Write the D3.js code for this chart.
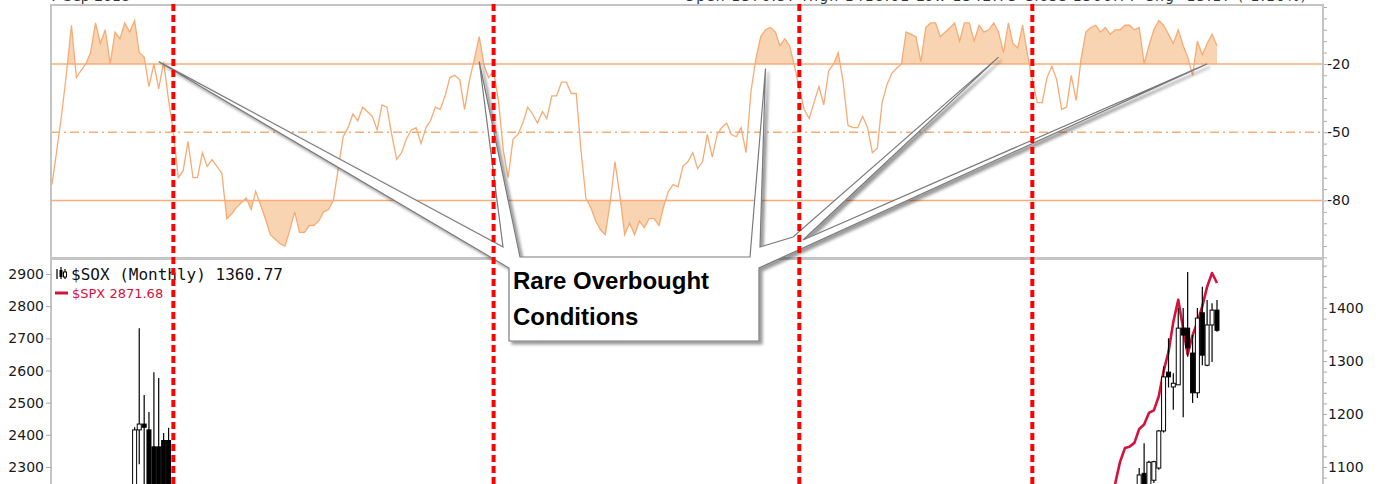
<!DOCTYPE html>
<html>
<head>
<meta charset="utf-8">
<script src="https://cdnjs.cloudflare.com/ajax/libs/d3/7.8.5/d3.min.js"></script>
<style>
body { margin: 0; background: #fff; }
svg { display: block; }
.tick-label { font-family: "DejaVu Sans", sans-serif; font-size: 14px; fill: #1a1a1a; }
</style>
</head>
<body>
<div class="canvas"></div>
<script>
// monthly Williams %R, Sep 1998 .. Sep 2018
var firstMonth = "1998-09";
var wpr = [
  -73, -58, -42, -24, -3, -26, -23, -20, -15, -2, -11, -5,
  -20, -6, -9, -2, -6, -1, -15, -17, -30, -20, -31, -19,
  -36, -50, -70, -67, -54, -70, -70, -59, -65, -62, -65, -68,
  -88, -86, -83, -81, -79, -84, -76, -82, -88, -95, -97, -99,
  -100, -93, -85, -94, -94, -91, -91, -89, -85, -84, -80, -66,
  -52, -48, -42, -45, -39, -41, -43, -49, -38, -39, -51, -62,
  -59, -53, -49, -48, -55, -48, -45, -39, -40, -34, -26, -25,
  -27, -40, -27, -18, -8, -21, -26, -23, -36, -58, -70, -53,
  -51, -46, -39, -42, -46, -41, -44, -34, -34, -28, -28, -33,
  -33, -58, -79, -83, -89, -93, -95, -81, -63, -78, -95, -90,
  -95, -89, -92, -88, -88, -91, -83, -76, -73, -74, -65, -63,
  -59, -66, -63, -51, -61, -51, -48, -46, -51, -52, -48, -59,
  -32, -18, -8, -5, -4, -6, -12, -9, -12, -21, -31, -40,
  -44, -37, -30, -38, -23, -20, -15, -28, -47, -48, -48, -43,
  -48, -59, -57, -37, -29, -24, -22, -20, -6, -7, -8, -19,
  -4, -2, -2, -8, -6, -4, -2, -10, -2, -2, -10, -3,
  -6, -5, -2, -6, -15, -2, -11, -13, -3, -16, -27, -37,
  -37, -26, -21, -27, -40, -39, -25, -36, -18, -6, -4, -3,
  -6, -4, -7, -5, -5, -3, -3, -5, -4, -20, -12, -5,
  -1, -3, -7, -11, -5, -12, -17, -25, -10, -16, -11, -7,
  -12
];
var wprTicks = [-20, -50, -80];

// $SOX monthly candles (only the ones that reach into the visible window)
var soxDates = ["2000-02", "2000-03", "2000-04", "2000-05", "2000-06", "2000-07", "2000-08", "2000-09",
  "2017-05", "2017-06", "2017-07", "2017-08", "2017-09", "2017-10", "2017-11", "2017-12",
  "2018-01", "2018-02", "2018-03", "2018-04", "2018-05", "2018-06", "2018-07", "2018-08", "2018-09"];
var soxOpen  = [1000, 1170, 1181, 1170, 1138, 1138, 1150, 1150,
  1060, 1088, 1065, 1075, 1098, 1168, 1279, 1251, 1255, 1362, 1362, 1315, 1240, 1391, 1292, 1368, 1396];
var soxHigh  = [1175, 1362, 1236, 1204, 1279, 1268, 1164, 1174,
  1098, 1145, 1112, 1112, 1170, 1290, 1343, 1277, 1400, 1400, 1468, 1349, 1400, 1440, 1415, 1409, 1415];
var soxLow   = [980, 1105, 1020, 1000, 990, 1000, 1010, 1000,
  1050, 1040, 1055, 1070, 1095, 1165, 1250, 1208, 1255, 1194, 1308, 1221, 1230, 1292, 1290, 1298, 1355];
var soxClose = [1170, 1181, 1175, 1020, 1010, 1030, 1050, 1040,
  1085, 1060, 1109, 1110, 1168, 1270, 1270, 1258, 1362, 1349, 1325, 1240, 1381, 1311, 1368, 1396, 1358];
var soxTicks = [1100, 1200, 1300, 1400];

// $SPX monthly close
var spxFirst = "2016-11";
var spx = [2190, 2247, 2316, 2359, 2363, 2375, 2418, 2432, 2468, 2476, 2520, 2598,
  2658, 2751, 2820, 2730, 2650, 2710, 2750, 2800, 2860, 2903, 2872];
var spxTicks = [2300, 2400, 2500, 2600, 2700, 2800, 2900];

var markerDates = ["2000-10", "2006-04", "2011-07", "2015-07"];

// callout targets (month, %R value)
var calloutDates = ["2000-07", "2006-01", "2010-12", "2014-12", "2018-07"];
var calloutVals = [-19, -19, -22, -17, -20];

var width = 1381, height = 484;
var L = 51, R = 1323;
var top1 = 5, bot1 = 258, top2 = 259;

var parseMonth = d3.timeParse("%Y-%m");
var t0 = parseMonth(firstMonth);

var x = d3.scaleTime()
    .domain([t0, d3.timeMonth.offset(t0, 240)])
    .range([52, 1217]);
var yW = d3.scaleLinear().domain([0, -100]).range([18.4, 246]);
var ySox = d3.scaleLinear().domain([1400, 1100]).range([308, 467]);
var ySpx = d3.scaleLinear().domain([2900, 2300]).range([274, 467]);

var wprData = wpr.map(function(v, i) { return {date: d3.timeMonth.offset(t0, i), v: v}; });
var spxData = spx.map(function(v, i) { return {date: d3.timeMonth.offset(parseMonth(spxFirst), i), v: v}; });
var candles = soxDates.map(function(d, i) {
  return {date: parseMonth(d), o: soxOpen[i], h: soxHigh[i], l: soxLow[i], c: soxClose[i]};
});

var svg = d3.select(".canvas").append("svg")
    .attr("width", width)
    .attr("height", height);

var defs = svg.append("defs");
defs.append("clipPath").attr("id", "clipTop")
  .append("rect").attr("x", L).attr("y", top1).attr("width", R - L).attr("height", bot1 - top1);
defs.append("clipPath").attr("id", "clipOB")
  .append("rect").attr("x", L).attr("y", top1).attr("width", R - L).attr("height", yW(-20) - top1);
defs.append("clipPath").attr("id", "clipOS")
  .append("rect").attr("x", L).attr("y", yW(-80)).attr("width", R - L).attr("height", bot1 - yW(-80));
defs.append("clipPath").attr("id", "clipBot")
  .append("rect").attr("x", L).attr("y", top2).attr("width", R - L).attr("height", 400);
var shadow = defs.append("filter").attr("id", "shadow")
    .attr("x", "-10%").attr("y", "-10%").attr("width", "130%").attr("height", "130%");
shadow.append("feDropShadow")
    .attr("dx", 3).attr("dy", 3)
    .attr("stdDeviation", 1.6)
    .attr("flood-color", "#000")
    .attr("flood-opacity", 0.4);

// header text, mostly cut off by the window top
svg.append("text")
    .attr("x", 50).attr("y", 1)
    .style("font-family", "DejaVu Sans, sans-serif").style("font-size", "14px")
    .style("fill", "#333")
    .text("7 Sep 2018");
svg.append("text")
    .attr("x", 1306).attr("y", 1)
    .attr("text-anchor", "end")
    .attr("textLength", 622)
    .style("font-family", "DejaVu Sans, sans-serif").style("font-size", "14px")
    .style("fill", "#333")
    .text("Open 1376.57 High 1418.61 Low 1342.73 Close 1360.77 Chg -15.17 (-1.10%)");

// ---------- top panel: Williams %R ----------
var gTop = svg.append("g");

var obArea = d3.area()
    .x(function(d) { return x(d.date); })
    .y0(yW(-20))
    .y1(function(d) { return yW(d.v); });
var osArea = d3.area()
    .x(function(d) { return x(d.date); })
    .y0(yW(-80))
    .y1(function(d) { return yW(d.v); });

gTop.append("path")
    .datum(wprData)
    .attr("clip-path", "url(#clipOB)")
    .attr("d", obArea)
    .style("fill", "#f8d4b2");
gTop.append("path")
    .datum(wprData)
    .attr("clip-path", "url(#clipOS)")
    .attr("d", osArea)
    .style("fill", "#f8d4b2");

gTop.selectAll(".band")
    .data(wprTicks)
  .enter().append("line")
    .attr("class", "band")
    .attr("x1", L).attr("x2", R)
    .attr("y1", function(d) { return yW(d); })
    .attr("y2", function(d) { return yW(d); })
    .style("stroke", "#f6ad78")
    .style("stroke-width", 1.5)
    .style("stroke-dasharray", function(d) { return d === -50 ? "9,4,2,4" : null; });

gTop.append("path")
    .datum(wprData)
    .attr("clip-path", "url(#clipTop)")
    .attr("d", d3.line()
        .x(function(d) { return x(d.date); })
        .y(function(d) { return yW(d.v); }))
    .style("fill", "none")
    .style("stroke", "#f7ab74")
    .style("stroke-width", 1.3);

// right axis for %R
var axW = svg.append("g").attr("transform", "translate(" + R + ",0)")
    .call(d3.axisRight(yW).tickValues(d3.range(5, -106, -5)).tickSize(4).tickFormat(""));
axW.select(".domain").remove();
axW.selectAll("line").style("stroke", "#aaa");
svg.selectAll(".wlab")
    .data(wprTicks)
  .enter().append("text")
    .attr("class", "tick-label wlab")
    .attr("x", R + 4)
    .attr("y", function(d) { return yW(d) + 5; })
    .text(function(d) { return d; });

// panel frames
svg.append("rect")
    .attr("x", L).attr("y", top1).attr("width", R - L).attr("height", bot1 - top1)
    .style("fill", "none").style("stroke", "#c4c4c4").style("stroke-width", 2);
svg.append("rect")
    .attr("x", L).attr("y", top2).attr("width", R - L).attr("height", 400)
    .style("fill", "none").style("stroke", "#c4c4c4").style("stroke-width", 2);

// ---------- lower panel: $SOX candles + $SPX ----------
var gBot = svg.append("g").attr("clip-path", "url(#clipBot)");

gBot.append("path")
    .datum(spxData)
    .attr("d", d3.line()
        .x(function(d) { return x(d.date); })
        .y(function(d) { return ySpx(d.v); }))
    .style("fill", "none")
    .style("stroke", "#d4123e")
    .style("stroke-width", 2.6)
    .style("stroke-linejoin", "round");

var cw = 4;
var cg = gBot.selectAll(".candle")
    .data(candles)
  .enter().append("g")
    .attr("class", "candle");
cg.append("line")
    .attr("x1", function(d) { return x(d.date); })
    .attr("x2", function(d) { return x(d.date); })
    .attr("y1", function(d) { return ySox(d.h); })
    .attr("y2", function(d) { return ySox(d.l); })
    .style("stroke", "#000")
    .style("stroke-width", 1.2);
cg.append("rect")
    .attr("x", function(d) { return x(d.date) - cw / 2; })
    .attr("y", function(d) { return ySox(Math.max(d.o, d.c)); })
    .attr("width", cw)
    .attr("height", function(d) { return Math.max(1, Math.abs(ySox(d.o) - ySox(d.c))); })
    .style("fill", function(d) { return d.c >= d.o ? "#fff" : "#000"; })
    .style("stroke", "#000")
    .style("stroke-width", 1);

// left axis ($SPX) and right axis ($SOX)
var axL = svg.append("g").attr("transform", "translate(" + L + ",0)")
    .call(d3.axisLeft(ySpx).tickValues(spxTicks).tickSize(5).tickFormat(""));
axL.select(".domain").remove();
axL.selectAll("line").style("stroke", "#aaa");
svg.selectAll(".llab")
    .data(spxTicks)
  .enter().append("text")
    .attr("class", "tick-label llab")
    .attr("x", 44)
    .attr("y", function(d) { return ySpx(d) + 5; })
    .attr("text-anchor", "end")
    .text(function(d) { return d; });

var axR = svg.append("g").attr("transform", "translate(" + R + ",0)")
    .call(d3.axisRight(ySox).tickValues(d3.range(1020, 1481, 20)).tickSize(4).tickFormat(""));
axR.select(".domain").remove();
axR.selectAll("line").style("stroke", "#aaa");
svg.selectAll(".rlab")
    .data(soxTicks)
  .enter().append("text")
    .attr("class", "tick-label rlab")
    .attr("x", R + 5)
    .attr("y", function(d) { return ySox(d) + 5; })
    .text(function(d) { return d; });

// legend
var icon = svg.append("g").attr("transform", "translate(56,267)");
icon.append("path").attr("d", "M1,2 V12 M5,0 V12 M9,2 V12").style("stroke", "#000").style("stroke-width", 1.2);
icon.append("rect").attr("x", 3.5).attr("y", 3).attr("width", 3).attr("height", 7).style("fill", "#000");
icon.append("rect").attr("x", 7.5).attr("y", 5).attr("width", 3).attr("height", 5).style("fill", "#fff").style("stroke", "#000");
svg.append("text")
    .attr("x", 71).attr("y", 280)
    .style("font-family", "DejaVu Sans Mono, monospace").style("font-size", "16px")
    .style("fill", "#111")
    .text("$SOX (Monthly) 1360.77");
svg.append("line")
    .attr("x1", 55).attr("x2", 68).attr("y1", 293).attr("y2", 293)
    .style("stroke", "#d4123e").style("stroke-width", 3);
svg.append("text")
    .attr("x", 72).attr("y", 298)
    .style("font-family", "DejaVu Sans, sans-serif").style("font-size", "13px")
    .style("fill", "#d4123e")
    .text("$SPX 2871.68");

// ---------- callout ----------
var tips = calloutDates.map(function(d, i) { return [x(parseMonth(d)), yW(calloutVals[i])]; });
var shape = [
  [509, 341], [509, 268], tips[0], [503, 247], tips[1], [520, 257],
  [750, 257], tips[2], [760, 247], [793, 237], tips[3], [803, 240], tips[4],
  [759, 268], [759, 341]
];
svg.append("path")
    .attr("d", "M" + shape.join("L") + "Z")
    .attr("filter", "url(#shadow)")
    .style("fill", "#fff")
    .style("stroke", "#7a7a7a")
    .style("stroke-width", 1.2)
    .style("stroke-linejoin", "miter");
svg.append("text")
    .attr("x", 513).attr("y", 289)
    .style("font-family", "Liberation Sans, Arial, sans-serif").style("font-size", "24px")
    .style("font-weight", "bold").style("fill", "#000")
    .text("Rare Overbought");
svg.append("text")
    .attr("x", 513).attr("y", 325)
    .style("font-family", "Liberation Sans, Arial, sans-serif").style("font-size", "24px")
    .style("font-weight", "bold").style("fill", "#000")
    .text("Conditions");

// red dashed markers
svg.selectAll(".marker")
    .data(markerDates)
  .enter().append("line")
    .attr("class", "marker")
    .attr("x1", function(d) { return x(parseMonth(d)); })
    .attr("x2", function(d) { return x(parseMonth(d)); })
    .attr("y1", 4).attr("y2", height)
    .style("stroke", "#ff0000")
    .style("stroke-width", 4)
    .style("stroke-dasharray", "7,4");
</script>
</body>
</html>
